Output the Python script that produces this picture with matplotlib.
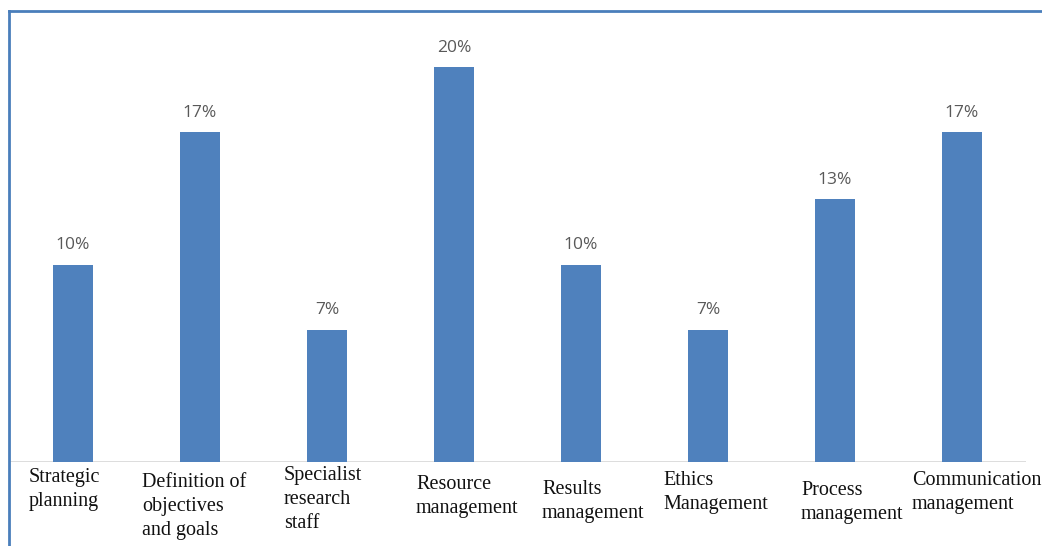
import matplotlib.pyplot as plt
from matplotlib.lines import Line2D

categories = ["Strategic\nplanning", "Definition of\nobjectives\nand goals",
              "Specialist\nresearch\nstaff", "Resource\nmanagement",
              "Results\nmanagement", "Ethics\nManagement",
              "Process\nmanagement", "Communication\nmanagement"]
values = [10.0, 16.7, 6.7, 20.0, 10.0, 6.7, 13.3, 16.7]

# label anchors (left x, top y) in pixels, the scan has them scattered
label_pos = [(29, 468), (142, 473), (284, 466), (416, 475),
             (542, 480), (663, 471), (801, 481), (912, 471)]

W, H = 1042, 546
fig = plt.figure(figsize=(W / 100, H / 100), dpi=100)

# plot area: baseline at y=462, top of frame at y=11
ax = fig.add_axes([9.5 / W, (H - 462) / H, 1016 / W, (462 - 11) / H])
x = range(len(values))
bars = ax.bar(x, values, width=0.315, color="#4f81bd", zorder=2)
ax.set_xlim(-0.5, 7.5)
ax.set_ylim(0, 20 * 451 / 395)
ax.axis("off")
ax.axhline(0, color="#d9d9d9", lw=2, zorder=1)

for b, v in zip(bars, values):
    ax.annotate(f"{v:.0f}%", (b.get_x() + b.get_width() / 2, v),
                xytext=(0, 11), textcoords="offset points",
                ha="center", va="baseline", fontsize=12.5,
                family="Open Sans", color="#595959")

for lab, (px, py) in zip(categories, label_pos):
    fig.text(px / W, 1 - py / H, lab, ha="left", va="top",
             family="Liberation Serif", fontsize=14.5, linespacing=1.35,
             color="#111111")

# blue frame around the picture
fig.add_artist(Line2D([9 / W, 1], [1 - 11 / H, 1 - 11 / H], color="#4a7ebb", lw=2))
fig.add_artist(Line2D([9 / W, 9 / W], [0, 1 - 11 / H], color="#4a7ebb", lw=2))

fig.savefig("out.png", dpi=100)
